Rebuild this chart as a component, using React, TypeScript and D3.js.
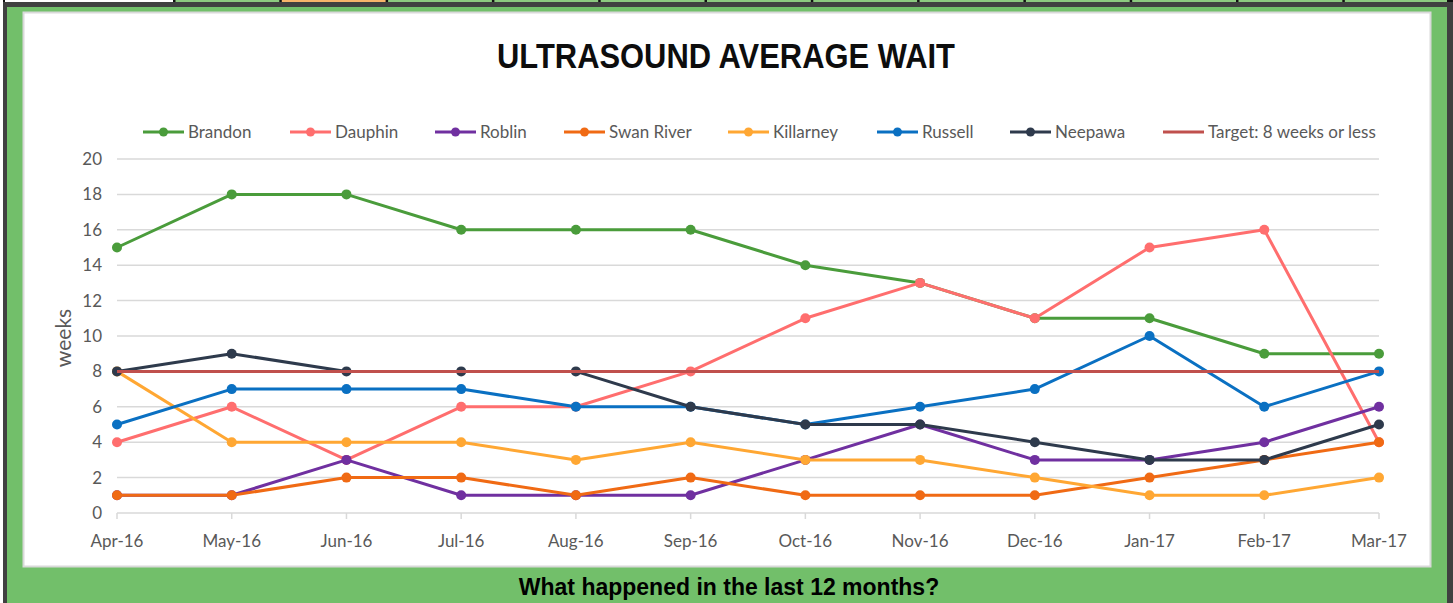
import React from 'react';
import * as d3 from 'd3';

// data
const months = ['Apr-16', 'May-16', 'Jun-16', 'Jul-16', 'Aug-16', 'Sep-16', 'Oct-16', 'Nov-16', 'Dec-16', 'Jan-17', 'Feb-17', 'Mar-17'];
const brandon = [15, 18, 18, 16, 16, 16, 14, 13, 11, 11, 9, 9];
const dauphin = [4, 6, 3, 6, 6, 8, 11, 13, 11, 15, 16, 4];
const roblin = [1, 1, 3, 1, 1, 1, 3, 5, 3, 3, 4, 6];
const swanRiver = [1, 1, 2, 2, 1, 2, 1, 1, 1, 2, 3, 4];
const killarney = [8, 4, 4, 4, 3, 4, 3, 3, 2, 1, 1, 2];
const russell = [5, 7, 7, 7, 6, 6, 5, 6, 7, 10, 6, 8];
const neepawa = [8, 9, 8, 8, 8, 6, 5, 5, 4, 3, 3, 5];
const target = [8, 8, 8, 8, 8, 8, 8, 8, 8, 8, 8, 8];
const yTicks = [0, 2, 4, 6, 8, 10, 12, 14, 16, 18, 20];

const seriesNames = ['Brandon', 'Dauphin', 'Roblin', 'Swan River', 'Killarney', 'Russell', 'Neepawa', 'Target: 8 weeks or less'];
const seriesValues = [brandon, dauphin, roblin, swanRiver, killarney, russell, neepawa, target];
const seriesColors = ['#4a9c3b', '#ff6e6e', '#7030a0', '#f06a14', '#ffa733', '#0a70c2', '#2e3a4c', '#c0504d'];
const seriesMarkers = [true, true, true, true, true, true, true, false];

// sheet cells peeking above the frame
const cellFills = ['#ffffff', '#8cc97f', '#f7b46a', '#8cc97f', '#8cc97f', '#8cc97f', '#8cc97f', '#8cc97f', '#8cc97f', '#8cc97f', '#8cc97f', '#8cc97f', '#8cc97f'];

const W = 1453;
const H = 603;
const font = 'Lato, "Open Sans", sans-serif';

export default function App() {
  const x = d3.scalePoint<string>().domain(months).range([117, 1379]);
  const y = d3.scaleLinear().domain([0, 20]).range([513, 159]);
  const line = d3.line<number>()
    .x((_, i) => x(months[i]) as number)
    .y(d => y(d));

  // legend placement
  const legendX = [143, 290, 435, 564, 728, 877, 1010, 1163];
  const legendY = 132;

  const cellX = d3.scaleLinear().domain([0, 1]).range([174, 280.3]);

  return (
    <svg width={W} height={H} style={{ position: 'absolute', left: 0, top: 0, display: 'block' }}>
      <rect x={0} y={0} width={W} height={H} fill="#ffffff" />
      {/* top strip of sheet cells */}
      <rect x={3} y={0} width={W - 3} height={3} fill="#111" />
      {cellFills.map((c, i) => {
        const x0 = i === 0 ? 5 : cellX(i - 1) + 1.5;
        const x1 = Math.min(cellX(i) - 1, W - 6);
        return <rect key={i} x={x0} y={0} width={x1 - x0} height={2} fill={c} />;
      })}
      {/* frame */}
      <rect x={3} y={2} width={W - 3} height={H - 2} fill="#404040" />
      <rect x={7} y={7} width={1440} height={H - 7} fill="#72bf6a" />
      <rect x={23.5} y={12.5} width={1407} height={554} fill="#ffffff" stroke="#d9d9d9" strokeWidth={2} />

      {/* title */}
      <text x={726} y={68} textAnchor="middle" fontFamily='"Liberation Sans", Arial, sans-serif' fontWeight="bold"
        fontSize={35} textLength={458} lengthAdjust="spacingAndGlyphs" fill="#0d0d0d">ULTRASOUND AVERAGE WAIT</text>

      {/* legend */}
      {seriesNames.map((name, i) => (
        <g key={name} transform={`translate(${legendX[i]},${legendY})`}>
          <line x1={0} x2={41} y1={0} y2={0} stroke={seriesColors[i]} strokeWidth={3} />
          {seriesMarkers[i] && <circle cx={20.5} cy={0} r={4.5} fill={seriesColors[i]} />}
          <text x={45} y={6} fontFamily={font} fontSize={17} fill="#595959">{name}</text>
        </g>
      ))}

      {/* gridlines and y labels */}
      {yTicks.map(t => (
        <g key={t}>
          <line x1={117} x2={1379} y1={y(t)} y2={y(t)} stroke="#d9d9d9" strokeWidth={1.5} />
          <text x={102} y={y(t) + 6} textAnchor="end" fontFamily={font} fontSize={17} fill="#595959">{t}</text>
        </g>
      ))}
      <text transform={`translate(71,338) rotate(-90)`} textAnchor="middle" fontFamily={font} fontSize={21} fill="#595959">weeks</text>

      {/* x axis ticks and labels */}
      {months.map(m => (
        <g key={m}>
          <line x1={x(m)} x2={x(m)} y1={513} y2={519} stroke="#d9d9d9" strokeWidth={1.5} />
          <text x={x(m)} y={547} textAnchor="middle" fontFamily={font} fontSize={17} fill="#595959">{m}</text>
        </g>
      ))}

      {/* series */}
      {seriesValues.map((vals, i) => (
        <g key={seriesNames[i]}>
          <path d={line(vals) || ''} fill="none" stroke={seriesColors[i]} strokeWidth={3} strokeLinejoin="round" />
          {seriesMarkers[i] && vals.map((v, j) => (
            <circle key={j} cx={x(months[j])} cy={y(v)} r={5} fill={seriesColors[i]} />
          ))}
        </g>
      ))}

      {/* caption below the chart */}
      <text x={729} y={595} textAnchor="middle" fontFamily='"Liberation Sans", Arial, sans-serif' fontWeight="bold"
        fontSize={23} fill="#000">What happened in the last 12 months?</text>
    </svg>
  );
}
